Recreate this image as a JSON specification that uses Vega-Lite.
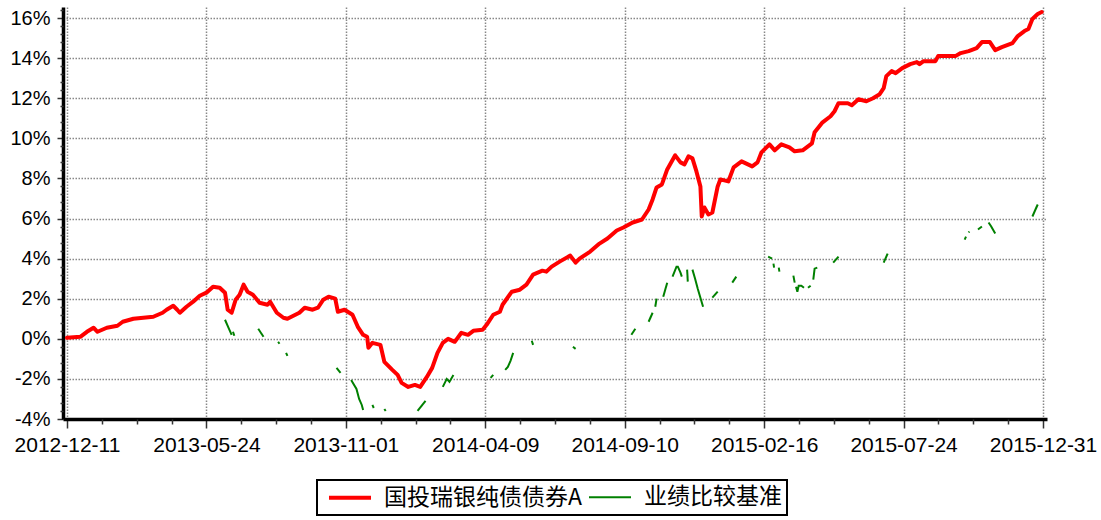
{
  "$schema": "https://vega.github.io/schema/vega-lite/v6.json",
  "width": 984,
  "height": 412,
  "autosize": {"type": "none"},
  "padding": {"left": 63, "top": 7, "right": 54, "bottom": 101},
  "background": "white",
  "config": {"view": {"stroke": null}, "font": "Liberation Sans", "legend": {"strokeWidth": 2}},
  "datasets": {
    "fund": [
      {"s":"国投瑞银纯债债券A","t":0,"v":0.05},{"s":"国投瑞银纯债债券A","t":10,"v":0.1},{"s":"国投瑞银纯债债券A","t":15,"v":0.35},{"s":"国投瑞银纯债债券A","t":20,"v":0.55},{"s":"国投瑞银纯债债券A","t":23,"v":0.35},
      {"s":"国投瑞银纯债债券A","t":30,"v":0.55},{"s":"国投瑞银纯债债券A","t":38,"v":0.65},{"s":"国投瑞银纯债债券A","t":42,"v":0.85},{"s":"国投瑞银纯债债券A","t":50,"v":1.0},{"s":"国投瑞银纯债债券A","t":65,"v":1.1},
      {"s":"国投瑞银纯债债券A","t":72,"v":1.3},{"s":"国投瑞银纯债债券A","t":75,"v":1.45},{"s":"国投瑞银纯债债券A","t":80,"v":1.65},{"s":"国投瑞银纯债债券A","t":83,"v":1.45},{"s":"国投瑞银纯债债券A","t":85,"v":1.3},
      {"s":"国投瑞银纯债债券A","t":90,"v":1.6},{"s":"国投瑞银纯债债券A","t":95,"v":1.85},{"s":"国投瑞银纯债债券A","t":100,"v":2.15},{"s":"国投瑞银纯债债券A","t":105,"v":2.3},{"s":"国投瑞银纯债债券A","t":110,"v":2.6},
      {"s":"国投瑞银纯债债券A","t":115,"v":2.55},{"s":"国投瑞银纯债债券A","t":119,"v":2.3},{"s":"国投瑞银纯债债券A","t":121,"v":1.45},{"s":"国投瑞银纯债债券A","t":124,"v":1.3},{"s":"国投瑞银纯债债券A","t":127,"v":1.95},
      {"s":"国投瑞银纯债债券A","t":130,"v":2.2},{"s":"国投瑞银纯债债券A","t":133,"v":2.7},{"s":"国投瑞银纯债债券A","t":136,"v":2.35},{"s":"国投瑞银纯债债券A","t":140,"v":2.2},{"s":"国投瑞银纯债债券A","t":145,"v":1.8},
      {"s":"国投瑞银纯债债券A","t":151,"v":1.7},{"s":"国投瑞银纯债债券A","t":153,"v":1.85},{"s":"国投瑞银纯债债券A","t":158,"v":1.3},{"s":"国投瑞银纯债债券A","t":163,"v":1.05},{"s":"国投瑞银纯债债券A","t":166,"v":1.0},
      {"s":"国投瑞银纯债债券A","t":175,"v":1.3},{"s":"国投瑞银纯债债券A","t":179,"v":1.55},{"s":"国投瑞银纯债债券A","t":185,"v":1.45},{"s":"国投瑞银纯债债券A","t":189,"v":1.55},{"s":"国投瑞银纯债债券A","t":193,"v":1.95},
      {"s":"国投瑞银纯债债券A","t":197,"v":2.1},{"s":"国投瑞银纯债债券A","t":202,"v":2.0},{"s":"国投瑞银纯债债券A","t":204,"v":1.35},{"s":"国投瑞银纯债债券A","t":209,"v":1.45},{"s":"国投瑞银纯债债券A","t":215,"v":1.2},
      {"s":"国投瑞银纯债债券A","t":219,"v":0.6},{"s":"国投瑞银纯债债券A","t":223,"v":0.2},{"s":"国投瑞银纯债债券A","t":226,"v":0.1},{"s":"国投瑞银纯债债券A","t":227,"v":-0.45},{"s":"国投瑞银纯债债券A","t":230,"v":-0.2},
      {"s":"国投瑞银纯债债券A","t":236,"v":-0.3},{"s":"国投瑞银纯债债券A","t":239,"v":-1.15},{"s":"国投瑞银纯债债券A","t":245,"v":-1.55},{"s":"国投瑞银纯债债券A","t":249,"v":-1.8},{"s":"国投瑞银纯债债券A","t":252,"v":-2.2},
      {"s":"国投瑞银纯债债券A","t":257,"v":-2.4},{"s":"国投瑞银纯债债券A","t":262,"v":-2.3},{"s":"国投瑞银纯债债券A","t":266,"v":-2.4},{"s":"国投瑞银纯债债券A","t":271,"v":-1.9},{"s":"国投瑞银纯债债券A","t":275,"v":-1.45},
      {"s":"国投瑞银纯债债券A","t":279,"v":-0.7},{"s":"国投瑞银纯债债券A","t":283,"v":-0.2},{"s":"国投瑞银纯债债券A","t":287,"v":0},{"s":"国投瑞银纯债债券A","t":292,"v":-0.15},{"s":"国投瑞银纯债债券A","t":297,"v":0.3},
      {"s":"国投瑞银纯债债券A","t":302,"v":0.2},{"s":"国投瑞银纯债债券A","t":306,"v":0.4},{"s":"国投瑞银纯债债券A","t":313,"v":0.45},{"s":"国投瑞银纯债债券A","t":316,"v":0.7},{"s":"国投瑞银纯债债券A","t":321,"v":1.2},
      {"s":"国投瑞银纯债债券A","t":326,"v":1.35},{"s":"国投瑞银纯债债券A","t":328,"v":1.7},{"s":"国投瑞银纯债债券A","t":335,"v":2.35},{"s":"国投瑞银纯债债券A","t":341,"v":2.45},{"s":"国投瑞银纯债债券A","t":346,"v":2.7},
      {"s":"国投瑞银纯债债券A","t":351,"v":3.2},{"s":"国投瑞银纯债债券A","t":358,"v":3.4},{"s":"国投瑞银纯债债券A","t":361,"v":3.35},{"s":"国投瑞银纯债债券A","t":365,"v":3.6},{"s":"国投瑞银纯债债券A","t":371,"v":3.85},
      {"s":"国投瑞银纯债债券A","t":379,"v":4.15},{"s":"国投瑞银纯债债券A","t":383,"v":3.8},{"s":"国投瑞银纯债债券A","t":386,"v":4.0},{"s":"国投瑞银纯债债券A","t":394,"v":4.35},{"s":"国投瑞银纯债债券A","t":401,"v":4.75},
      {"s":"国投瑞银纯债债券A","t":407,"v":5.0},{"s":"国投瑞银纯债债券A","t":414,"v":5.4},{"s":"国投瑞银纯债债券A","t":419,"v":5.55},{"s":"国投瑞银纯债债券A","t":426,"v":5.8},{"s":"国投瑞银纯债债券A","t":433,"v":5.95},
      {"s":"国投瑞银纯债债券A","t":438,"v":6.45},{"s":"国投瑞银纯债债券A","t":441,"v":6.95},{"s":"国投瑞银纯债债券A","t":444,"v":7.55},{"s":"国投瑞银纯债债券A","t":448,"v":7.7},{"s":"国投瑞银纯债债券A","t":452,"v":8.45},
      {"s":"国投瑞银纯债债券A","t":458,"v":9.15},{"s":"国投瑞银纯债债券A","t":462,"v":8.8},{"s":"国投瑞银纯债债券A","t":465,"v":8.7},{"s":"国投瑞银纯债债券A","t":468,"v":9.1},{"s":"国投瑞银纯债债券A","t":471,"v":9.0},
      {"s":"国投瑞银纯债债券A","t":474,"v":8.35},{"s":"国投瑞银纯债债券A","t":477,"v":7.6},{"s":"国投瑞银纯债债券A","t":478,"v":6.1},{"s":"国投瑞银纯债债券A","t":480,"v":6.55},{"s":"国投瑞银纯债债券A","t":483,"v":6.2},
      {"s":"国投瑞银纯债债券A","t":486,"v":6.3},{"s":"国投瑞银纯债债券A","t":490,"v":7.6},{"s":"国投瑞银纯债债券A","t":492,"v":7.95},{"s":"国投瑞银纯债债券A","t":498,"v":7.85},{"s":"国投瑞银纯债债券A","t":502,"v":8.55},
      {"s":"国投瑞银纯债债券A","t":508,"v":8.85},{"s":"国投瑞银纯债债券A","t":516,"v":8.6},{"s":"国投瑞银纯债债券A","t":520,"v":8.8},{"s":"国投瑞银纯债债券A","t":523,"v":9.3},{"s":"国投瑞银纯债债券A","t":529,"v":9.7},
      {"s":"国投瑞银纯债债券A","t":533,"v":9.4},{"s":"国投瑞银纯债债券A","t":538,"v":9.7},{"s":"国投瑞银纯债债券A","t":544,"v":9.55},{"s":"国投瑞银纯债债券A","t":548,"v":9.35},{"s":"国投瑞银纯债债券A","t":554,"v":9.4},
      {"s":"国投瑞银纯债债券A","t":561,"v":9.75},{"s":"国投瑞银纯债债券A","t":563,"v":10.3},{"s":"国投瑞银纯债债券A","t":569,"v":10.8},{"s":"国投瑞银纯债债券A","t":575,"v":11.1},{"s":"国投瑞银纯债债券A","t":578,"v":11.35},
      {"s":"国投瑞银纯债债券A","t":581,"v":11.75},{"s":"国投瑞银纯债债券A","t":588,"v":11.75},{"s":"国投瑞银纯债债券A","t":591,"v":11.65},{"s":"国投瑞银纯债债券A","t":596,"v":11.95},{"s":"国投瑞银纯债债券A","t":602,"v":11.85},
      {"s":"国投瑞银纯债债券A","t":607,"v":12.0},{"s":"国投瑞银纯债债券A","t":612,"v":12.2},{"s":"国投瑞银纯债债券A","t":615,"v":12.5},{"s":"国投瑞银纯债债券A","t":617,"v":13.1},{"s":"国投瑞银纯债债券A","t":621,"v":13.35},
      {"s":"国投瑞银纯债债券A","t":624,"v":13.25},{"s":"国投瑞银纯债债券A","t":629,"v":13.5},{"s":"国投瑞银纯债债券A","t":635,"v":13.7},{"s":"国投瑞银纯债债券A","t":640,"v":13.8},{"s":"国投瑞银纯债债券A","t":642,"v":13.7},
      {"s":"国投瑞银纯债债券A","t":645,"v":13.85},{"s":"国投瑞银纯债债券A","t":654,"v":13.85},{"s":"国投瑞银纯债债券A","t":656,"v":14.1},{"s":"国投瑞银纯债债券A","t":669,"v":14.1},{"s":"国投瑞银纯债债券A","t":673,"v":14.25},
      {"s":"国投瑞银纯债债券A","t":679,"v":14.35},{"s":"国投瑞银纯债债券A","t":685,"v":14.5},{"s":"国投瑞银纯债债券A","t":689,"v":14.8},{"s":"国投瑞银纯债债券A","t":695,"v":14.8},{"s":"国投瑞银纯债债券A","t":699,"v":14.4},
      {"s":"国投瑞银纯债债券A","t":704,"v":14.55},{"s":"国投瑞银纯债债券A","t":710,"v":14.7},{"s":"国投瑞银纯债债券A","t":712,"v":14.75},{"s":"国投瑞银纯债债券A","t":716,"v":15.1},{"s":"国投瑞银纯债债券A","t":721,"v":15.35},
      {"s":"国投瑞银纯债债券A","t":724,"v":15.45},{"s":"国投瑞银纯债债券A","t":727,"v":15.95},{"s":"国投瑞银纯债债券A","t":731,"v":16.2},{"s":"国投瑞银纯债债券A","t":734,"v":16.3}
    ],
    "bench": [
      {"s":"业绩比较基准","g":1,"t":119,"v":0.95},{"s":"业绩比较基准","g":1,"t":122,"v":0.5},{"s":"业绩比较基准","g":1,"t":124,"v":0.2},
      {"s":"业绩比较基准","g":2,"t":125,"v":0.35},{"s":"业绩比较基准","g":2,"t":126,"v":0.15},
      {"s":"业绩比较基准","g":3,"t":144,"v":0.5},{"s":"业绩比较基准","g":3,"t":148,"v":0.1},
      {"s":"业绩比较基准","g":4,"t":159,"v":-0.15},{"s":"业绩比较基准","g":4,"t":160,"v":-0.25},
      {"s":"业绩比较基准","g":5,"t":165,"v":-0.7},{"s":"业绩比较基准","g":5,"t":166,"v":-0.85},
      {"s":"业绩比较基准","g":6,"t":203,"v":-1.45},{"s":"业绩比较基准","g":6,"t":206,"v":-1.7},
      {"s":"业绩比较基准","g":7,"t":214,"v":-2.05},{"s":"业绩比较基准","g":7,"t":218,"v":-2.5},{"s":"业绩比较基准","g":7,"t":220,"v":-3.0},{"s":"业绩比较基准","g":7,"t":222,"v":-3.3},{"s":"业绩比较基准","g":7,"t":223,"v":-3.55},
      {"s":"业绩比较基准","g":8,"t":230,"v":-3.3},{"s":"业绩比较基准","g":8,"t":231,"v":-3.45},
      {"s":"业绩比较基准","g":9,"t":239,"v":-3.5},{"s":"业绩比较基准","g":9,"t":240,"v":-3.6},
      {"s":"业绩比较基准","g":10,"t":264,"v":-3.6},{"s":"业绩比较基准","g":10,"t":270,"v":-3.1},
      {"s":"业绩比较基准","g":11,"t":283,"v":-2.4},{"s":"业绩比较基准","g":11,"t":286,"v":-2.0},{"s":"业绩比较基准","g":11,"t":288,"v":-2.15},{"s":"业绩比较基准","g":11,"t":291,"v":-1.8},
      {"s":"业绩比较基准","g":12,"t":319,"v":-1.95},{"s":"业绩比较基准","g":12,"t":321,"v":-1.8},
      {"s":"业绩比较基准","g":13,"t":330,"v":-1.55},{"s":"业绩比较基准","g":13,"t":332,"v":-1.4},{"s":"业绩比较基准","g":13,"t":334,"v":-1.1},{"s":"业绩比较基准","g":13,"t":336,"v":-0.7},
      {"s":"业绩比较基准","g":14,"t":350,"v":-0.1},{"s":"业绩比较基准","g":14,"t":351,"v":-0.3},
      {"s":"业绩比较基准","g":15,"t":381,"v":-0.4},{"s":"业绩比较基准","g":15,"t":383,"v":-0.5},
      {"s":"业绩比较基准","g":16,"t":425,"v":0.2},{"s":"业绩比较基准","g":16,"t":428,"v":0.5},
      {"s":"业绩比较基准","g":17,"t":438,"v":0.85},{"s":"业绩比较基准","g":17,"t":441,"v":1.3},
      {"s":"业绩比较基准","g":18,"t":443,"v":1.6},{"s":"业绩比较基准","g":18,"t":444,"v":2.0},
      {"s":"业绩比较基准","g":19,"t":449,"v":2.1},{"s":"业绩比较基准","g":19,"t":452,"v":2.8},
      {"s":"业绩比较基准","g":20,"t":456,"v":3.1},{"s":"业绩比较基准","g":20,"t":459,"v":3.6},{"s":"业绩比较基准","g":20,"t":460,"v":3.6},{"s":"业绩比较基准","g":20,"t":462,"v":3.3},{"s":"业绩比较基准","g":20,"t":463,"v":3.1},
      {"s":"业绩比较基准","g":21,"t":467,"v":3.45},{"s":"业绩比较基准","g":21,"t":467.5,"v":2.85},
      {"s":"业绩比较基准","g":22,"t":471,"v":3.45},{"s":"业绩比较基准","g":22,"t":473,"v":3.0},{"s":"业绩比较基准","g":22,"t":475,"v":2.5},{"s":"业绩比较基准","g":22,"t":479,"v":1.6},
      {"s":"业绩比较基准","g":23,"t":486,"v":2.05},{"s":"业绩比较基准","g":23,"t":490,"v":2.35},
      {"s":"业绩比较基准","g":24,"t":501,"v":2.8},{"s":"业绩比较基准","g":24,"t":504,"v":3.1},
      {"s":"业绩比较基准","g":25,"t":528,"v":4.1},{"s":"业绩比较基准","g":25,"t":531,"v":4.0},
      {"s":"业绩比较基准","g":26,"t":532,"v":3.75},{"s":"业绩比较基准","g":26,"t":532.5,"v":3.55},
      {"s":"业绩比较基准","g":27,"t":536,"v":3.55},{"s":"业绩比较基准","g":27,"t":536.5,"v":3.35},
      {"s":"业绩比较基准","g":28,"t":547,"v":3.15},{"s":"业绩比较基准","g":28,"t":548,"v":2.8},
      {"s":"业绩比较基准","g":29,"t":549,"v":2.6},{"s":"业绩比较基准","g":29,"t":550,"v":2.35},{"s":"业绩比较基准","g":29,"t":551,"v":2.65},{"s":"业绩比较基准","g":29,"t":553,"v":2.65},{"s":"业绩比较基准","g":29,"t":555,"v":2.55},
      {"s":"业绩比较基准","g":30,"t":558,"v":2.55},{"s":"业绩比较基准","g":30,"t":560,"v":2.65},
      {"s":"业绩比较基准","g":31,"t":562,"v":2.95},{"s":"业绩比较基准","g":31,"t":563,"v":3.5},{"s":"业绩比较基准","g":31,"t":565,"v":3.55},
      {"s":"业绩比较基准","g":32,"t":577,"v":3.8},{"s":"业绩比较基准","g":32,"t":581,"v":4.1},
      {"s":"业绩比较基准","g":33,"t":615,"v":3.8},{"s":"业绩比较基准","g":33,"t":618,"v":4.25},
      {"s":"业绩比较基准","g":34,"t":676,"v":4.95},{"s":"业绩比较基准","g":34,"t":677,"v":5.1},
      {"s":"业绩比较基准","g":35,"t":679,"v":5.3},{"s":"业绩比较基准","g":35,"t":679.5,"v":5.35},
      {"s":"业绩比较基准","g":36,"t":686,"v":5.45},{"s":"业绩比较基准","g":36,"t":689,"v":5.6},
      {"s":"业绩比较基准","g":37,"t":694,"v":5.8},{"s":"业绩比较基准","g":37,"t":696,"v":5.6},{"s":"业绩比较基准","g":37,"t":699,"v":5.25},
      {"s":"业绩比较基准","g":38,"t":727,"v":6.1},{"s":"业绩比较基准","g":38,"t":731,"v":6.7}
    ]
  },
  "layer": [
    {
      "data": {"name": "bench"},
      "mark": {"type": "line", "strokeCap": "butt"},
      "encoding": {
        "x": {
          "field": "t", "type": "quantitative",
          "scale": {"domain": [-3, 738], "nice": false, "zero": false},
          "axis": {
            "values": [0, 105, 210, 315, 420, 525, 630, 735],
            "labelExpr": "datum.value == 0 ? '2012-12-11' : datum.value == 105 ? '2013-05-24' : datum.value == 210 ? '2013-11-01' : datum.value == 315 ? '2014-04-09' : datum.value == 420 ? '2014-09-10' : datum.value == 525 ? '2015-02-16' : datum.value == 630 ? '2015-07-24' : '2015-12-31'",
            "title": null, "grid": true, "gridColor": "#888888", "gridDash": [1.5, 1.5], "gridWidth": 1.5,
            "domainColor": "black", "domainWidth": 3.5, "tickColor": "#333333", "tickWidth": 1.5, "tickSize": 9,
            "labelFontSize": 21, "labelColor": "black", "labelPadding": 6, "labelFlush": false, "labelOverlap": false
          }
        },
        "y": {
          "field": "v", "type": "quantitative",
          "scale": {"domain": [-4, 16.55], "nice": false, "zero": false},
          "axis": {
            "values": [-4, -2, 0, 2, 4, 6, 8, 10, 12, 14, 16],
            "labelExpr": "datum.value + '%'",
            "title": null, "grid": true, "gridColor": "#888888", "gridDash": [1.5, 1.5], "gridWidth": 1.5,
            "domainColor": "black", "domainWidth": 3.5, "tickColor": "#333333", "tickWidth": 1.5, "tickSize": 6,
            "labelFontSize": 20, "labelColor": "black", "labelPadding": 7
          }
        },
        "color": {"field": "s", "type": "nominal",
          "scale": {"domain": ["国投瑞银纯债债券A", "业绩比较基准"], "range": ["#ff0000", "#008000"]},
          "legend": {
            "title": null, "orient": "none", "legendX": 254, "legendY": 473, "direction": "horizontal",
            "columns": 2, "strokeColor": "black", "fillColor": "white",
            "padding": 5, "labelFont": "Noto Sans CJK SC", "labelFontSize": 23, "labelColor": "black", "labelLimit": 400,
            "labelExpr": "datum.label == '业绩比较基准' ? datum.label + '\u2003\u2003\u2003' : datum.label",
            "symbolType": "M-2,0H2", "symbolSize": 441, "labelOffset": 21.5, "columnPadding": 0, "symbolOffset": 15.5
          }
        },
        "strokeWidth": {"field": "s", "type": "nominal",
          "scale": {"domain": ["国投瑞银纯债债券A", "业绩比较基准"], "range": [4, 2]},
          "legend": {
            "title": null, "orient": "none", "legendX": 254, "legendY": 473, "direction": "horizontal",
            "columns": 2, "strokeColor": "black", "fillColor": "white",
            "padding": 5, "labelFont": "Noto Sans CJK SC", "labelFontSize": 23, "labelColor": "black", "labelLimit": 400,
            "labelExpr": "datum.label == '业绩比较基准' ? datum.label + '\u2003\u2003\u2003' : datum.label",
            "symbolType": "M-2,0H2", "symbolSize": 441, "labelOffset": 21.5, "columnPadding": 0, "symbolOffset": 15.5
          }
        },
        "detail": {"field": "g", "type": "nominal"}
      }
    },
    {
      "data": {"name": "fund"},
      "mark": {"type": "line", "strokeJoin": "round", "strokeCap": "round"},
      "encoding": {
        "x": {"field": "t", "type": "quantitative", "axis": null},
        "y": {"field": "v", "type": "quantitative", "axis": null},
        "color": {"field": "s", "type": "nominal"},
        "strokeWidth": {"field": "s", "type": "nominal"}
      }
    },
    {
      "data": {"name": "fund"},
      "mark": {"type": "line", "opacity": 0},
      "encoding": {
        "x": {"field": "t", "type": "quantitative",
          "axis": {"orient": "bottom", "values": [26.25, 52.5, 78.75, 131.25, 157.5, 183.75, 236.25, 262.5, 288.75, 341.25, 367.5, 393.75, 446.25, 472.5, 498.75, 551.25, 577.5, 603.75, 656.25, 682.5, 708.75],
            "labels": false, "domain": false, "grid": false, "tickSize": 5, "tickColor": "#333333", "tickWidth": 1.5, "title": null}},
        "y": {"field": "v", "type": "quantitative",
          "axis": {"orient": "left", "values": [-3.6, -3.2, -2.8, -2.4, -1.6, -1.2, -0.8, -0.4, 0.4, 0.8, 1.2, 1.6, 2.4, 2.8, 3.2, 3.6, 4.4, 4.8, 5.2, 5.6, 6.4, 6.8, 7.2, 7.6, 8.4, 8.8, 9.2, 9.6, 10.4, 10.8, 11.2, 11.6, 12.4, 12.8, 13.2, 13.6, 14.4, 14.8, 15.2, 15.6, 16.4],
            "labels": false, "domain": false, "grid": false, "tickSize": 3, "tickColor": "#333333", "tickWidth": 1.5, "title": null}}
      }
    }
  ],
  "resolve": {"axis": {"x": "independent", "y": "independent"}}
}
